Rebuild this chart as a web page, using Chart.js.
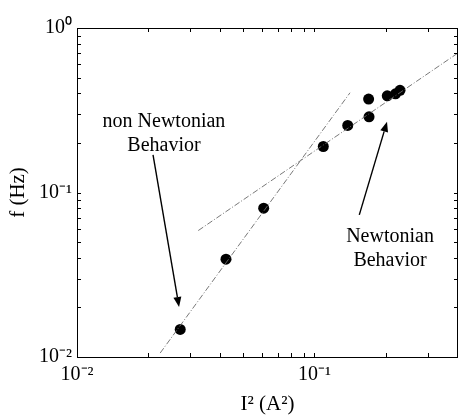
<!DOCTYPE html>
<html>
<head>
<meta charset="utf-8">
<script src="https://cdn.jsdelivr.net/npm/chart.js@4/dist/chart.umd.min.js"></script>
<style>
html,body{margin:0;padding:0;background:#fff}
#wrap{width:459px;height:415px}
</style>
</head>
<body>
<div id="wrap"><canvas id="c" width="459" height="415"></canvas></div>
<script>

// measured points: I^2 (A^2) vs f (Hz)
const currentSq = [0.0272, 0.0424, 0.0611, 0.1089, 0.138, 0.1697, 0.169, 0.2025, 0.2193, 0.2291]
const freq = [0.0147, 0.0393, 0.0803, 0.1904, 0.2555, 0.2886, 0.370, 0.3873, 0.3983, 0.4183]

// fit lines (end points)
const nonNewtX = [0.0224, 0.1411]
const nonNewtY = [0.01057, 0.404]
const newtX = [0.0324, 0.402]
const newtY = [0.0587, 0.705]

// axis ticks
const xTicks = [0.01,0.02,0.03,0.04,0.05,0.06,0.07,0.08,0.09,0.1,0.2,0.3,0.4]
const yTicks = [0.01,0.02,0.03,0.04,0.05,0.06,0.07,0.08,0.09,0.1,0.2,0.3,0.4,0.5,0.6,0.7,0.8,0.9,1]
const xTickLabels = {0.01:"10⁻²", 0.1:"10⁻¹"}
const yTickLabels = {0.01:"10⁻²", 0.1:"10⁻¹", 1:"10⁰"}

// annotations in data coordinates
const notes = [
{lines:["non Newtonian","Behavior"], x:0.02324, y:0.269, from:[0.0209,0.1695], to:[0.0269,0.02014]},
{lines:["Newtonian","Behavior"], x:0.208, y:0.0537, from:[0.1544,0.0731], to:[0.2020,0.269]}
]

const serif = "'Liberation Serif', 'Times New Roman', serif"

function toPts(xs,ys){
return xs.map((x,i)=>({x:x,y:ys[i]}))
}

const fitStyle = {
showLine:true,
pointRadius:0,
borderColor:"#6a6a6a",
borderWidth:0.9,
borderDash:[6,2,1,2],
fill:false
}

const frame = {
id:"frame",
afterDraw(chart){
const ctx = chart.ctx
const a = chart.chartArea
const xs = chart.scales.x
const ys = chart.scales.y
ctx.save()
ctx.strokeStyle = "#000"
ctx.lineWidth = 1
ctx.beginPath()
xs.ticks.forEach(t=>{
let px = Math.round(xs.getPixelForValue(t.value))+0.5
ctx.moveTo(px,a.bottom); ctx.lineTo(px,a.bottom-4)
ctx.moveTo(px,a.top); ctx.lineTo(px,a.top+4)
})
ys.ticks.forEach(t=>{
let py = Math.round(ys.getPixelForValue(t.value))+0.5
ctx.moveTo(a.left,py); ctx.lineTo(a.left+4,py)
ctx.moveTo(a.right,py); ctx.lineTo(a.right-4,py)
})
ctx.stroke()
ctx.strokeRect(Math.round(a.left)+0.5, Math.round(a.top)+0.5, Math.round(a.right-a.left)-1, Math.round(a.bottom-a.top))

// annotations
ctx.fillStyle = "#000"
ctx.font = "20px " + serif
ctx.textAlign = "center"
ctx.textBaseline = "middle"
notes.forEach(n=>{
let tx = xs.getPixelForValue(n.x)
let ty = ys.getPixelForValue(n.y)
n.lines.forEach((s,i)=>ctx.fillText(s, tx, ty + i*24))

let x0 = xs.getPixelForValue(n.from[0]), y0 = ys.getPixelForValue(n.from[1])
let x1 = xs.getPixelForValue(n.to[0]), y1 = ys.getPixelForValue(n.to[1])
let ang = Math.atan2(y1-y0, x1-x0)
let hl = 10, hw = 4
let bx = x1 - hl*Math.cos(ang), by = y1 - hl*Math.sin(ang)
ctx.lineWidth = 1.4
ctx.beginPath()
ctx.moveTo(x0,y0); ctx.lineTo(bx,by)
ctx.stroke()
ctx.beginPath()
ctx.moveTo(x1,y1)
ctx.lineTo(bx + hw*Math.sin(ang), by - hw*Math.cos(ang))
ctx.lineTo(bx - hw*Math.sin(ang), by + hw*Math.cos(ang))
ctx.closePath()
ctx.fill()
})
ctx.restore()
}
}

const chart = new Chart(document.getElementById("c"),{
type:"scatter",
data:{
datasets:[
Object.assign({data:toPts(nonNewtX,nonNewtY)}, fitStyle),
Object.assign({data:toPts(newtX,newtY)}, fitStyle),
{
data:toPts(currentSq,freq),
showLine:false,
pointRadius:5.5,
pointHoverRadius:5.5,
backgroundColor:"#000",
borderColor:"#000",
borderWidth:0
}
]
},
options:{
responsive:false,
animation:false,
layout:{autoPadding:false,padding:{top:28,right:1,left:0,bottom:0}},
plugins:{legend:{display:false},tooltip:{enabled:false}},
scales:{
x:{
type:"logarithmic",
min:0.01,
max:0.402,
afterBuildTicks(s){ s.ticks = xTicks.map(v=>({value:v})) },
afterFit(s){ s.height = 58; s.paddingLeft = 0; s.paddingRight = 0 },
grid:{display:false,drawTicks:false},
border:{display:false},
ticks:{
autoSkip:false,
maxRotation:0,
padding:6,
color:"#000",
font:{family:serif,size:20},
callback:(v)=>xTickLabels[v] || ""
},
title:{
display:true,
text:"I² (A²)",
color:"#000",
font:{family:serif,size:21,lineHeight:1},
padding:{top:0,bottom:0}
}
},
y:{
type:"logarithmic",
min:0.01,
max:1,
afterBuildTicks(s){ s.ticks = yTicks.map(v=>({value:v})) },
afterFit(s){ s.width = 77; s.paddingTop = 0; s.paddingBottom = 0 },
grid:{display:false,drawTicks:false},
border:{display:false},
ticks:{
autoSkip:false,
padding:5,
color:"#000",
font:{family:serif,size:20},
callback:(v)=>yTickLabels[v] || ""
},
title:{
display:true,
text:"f (Hz)",
color:"#000",
font:{family:serif,size:21,lineHeight:1},
padding:{top:7.5,bottom:0}
}
}
}
},
plugins:[frame]
})

</script>
</body>
</html>
